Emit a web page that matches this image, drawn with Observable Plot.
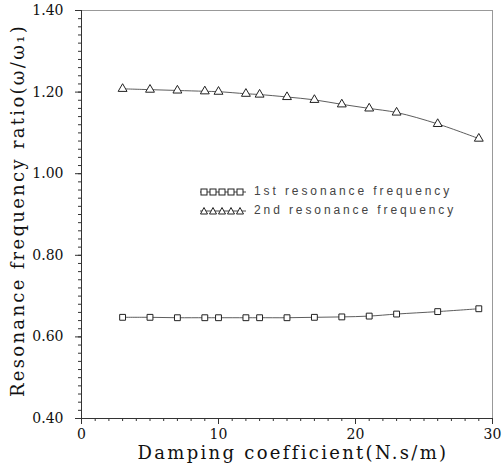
<!DOCTYPE html>
<html><head><meta charset="utf-8">
<script src="https://cdn.jsdelivr.net/npm/d3@7"></script>
<script src="https://cdn.jsdelivr.net/npm/@observablehq/plot@0.6"></script>
<style>
body{margin:0;background:#fff;}
#wrap{position:relative;width:502px;height:469px;}
#legend{position:absolute;left:199px;top:182px;font-family:"Liberation Sans",sans-serif;font-size:12px;letter-spacing:2.9px;color:#444;line-height:19px;}
#legend div{display:flex;align-items:center;}
#legend svg{margin-right:7px;}
</style></head><body>
<div id="wrap"><div id="chart"></div><div id="legend"></div></div>
<script>
const damping = [3,5,7,9,10,12,13,15,17,19,21,23,26,29];
const first = [0.648,0.648,0.647,0.647,0.647,0.647,0.647,0.647,0.648,0.649,0.651,0.656,0.662,0.669];
const second = [1.208,1.206,1.204,1.202,1.201,1.196,1.194,1.188,1.181,1.170,1.160,1.150,1.122,1.086];
const seriesNames = ["1st resonance frequency","2nd resonance frequency"];
const xMajor = [0,10,20,30];
const yMajor = [0.4,0.6,0.8,1.0,1.2,1.4];
const xLabel = "Damping coefficient(N.s/m)";
const yLabel = "Resonance frequency ratio(\u03c9/\u03c9\u2081)";

const d1 = damping.map((x,i)=>({x, y:first[i]}));
const d2 = damping.map((x,i)=>({x, y:second[i]}));
const xMinor = d3.range(0,31,1);
const yMinor = d3.range(0.40,1.401,0.02).map(v=>+v.toFixed(2));

const serif = "'DejaVu Serif','Liberation Serif',serif";
const plot = Plot.plot({
  width:502, height:469,
  marginLeft:81, marginRight:10, marginTop:10, marginBottom:51,
  style:{fontFamily:serif, background:"#fff", color:"#222"},
  x:{domain:[0,30]},
  y:{domain:[0.4,1.4]},
  marks:[
    Plot.frame({stroke:"#999", strokeWidth:1}),
    Plot.axisX({ticks:xMinor, tickSize:3, tickFormat:()=>"", label:null, stroke:"#333"}),
    Plot.axisX({ticks:xMajor, tickSize:6, tickFormat:d=>d, fontSize:14, fontFamily:serif, tickPadding:5, label:null, stroke:"#333", fill:"#111"}),
    Plot.axisY({ticks:yMinor, tickSize:3, tickFormat:()=>"", label:null, stroke:"#333"}),
    Plot.axisY({ticks:yMajor, tickSize:6, tickFormat:d=>d.toFixed(2), fontSize:14, fontFamily:serif, tickPadding:12, label:null, stroke:"#333", fill:"#111"}),
    Plot.ruleX([0],{stroke:"#333"}),
    Plot.ruleY([0.4],{stroke:"#333"}),
    Plot.line(d1,{x:"x",y:"y",curve:"catmull-rom",stroke:"#333",strokeWidth:0.8}),
    Plot.line(d2,{x:"x",y:"y",curve:"catmull-rom",stroke:"#333",strokeWidth:0.8}),
    Plot.dot(d1,{x:"x",y:"y",symbol:"square",r:3.3,stroke:"#222",fill:"#fff",strokeWidth:1}),
    Plot.dot(d2,{x:"x",y:"y",symbol:"triangle",r:3.3,stroke:"#222",fill:"#fff",strokeWidth:1}),
    Plot.text([xLabel],{frameAnchor:"bottom",dx:6,dy:40,fontSize:18,fontFamily:serif,fill:"#111"}),
    Plot.text([yLabel],{frameAnchor:"left",dx:-63,dy:-4,rotate:-90,textAnchor:"middle",fontSize:18,fontFamily:serif,fill:"#111"})
  ]
});
plot.querySelectorAll("text").forEach(t=>{
  if (t.textContent===xLabel || t.textContent===yLabel) t.style.letterSpacing="2.3px";
});
document.getElementById("chart").append(plot);

function sym(kind){
  let s = '<svg width="48" height="10">' + '<line x1="1" x2="47" y1="5" y2="5" stroke="#333" stroke-width="0.9"/>';
  for(let i=0;i<5;i++){
    const cx = 5 + i*9;
    if(kind==="square") s += `<rect x="${cx-3}" y="2" width="6" height="6" fill="#fff" stroke="#222"/>`;
    else s += `<path d="M${cx},1.5L${cx+3.5},8L${cx-3.5},8Z" fill="#fff" stroke="#222"/>`;
  }
  return s + '</svg>';
}
document.getElementById("legend").innerHTML =
  `<div>${sym("square")}<span>${seriesNames[0]}</span></div><div>${sym("triangle")}<span>${seriesNames[1]}</span></div>`;
</script>
</body></html>
